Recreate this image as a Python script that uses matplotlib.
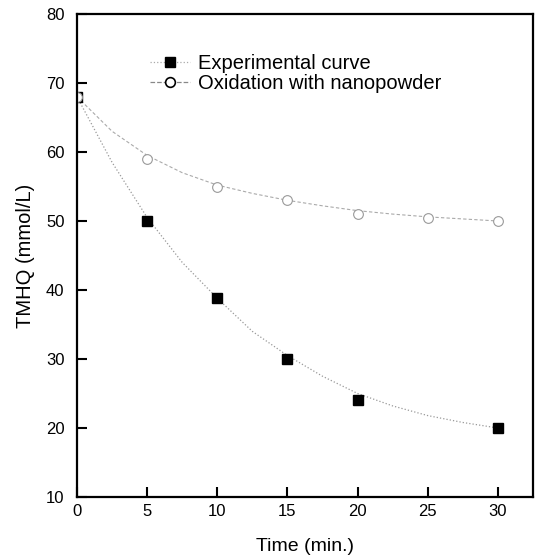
import numpy as np
import matplotlib.pyplot as plt

# measured points
time = [0, 5, 10, 15, 20, 30]
exp_tmhq = [68, 50, 38.8, 30, 24, 20]
nano_time = [0, 5, 10, 15, 20, 25, 30]
nano_tmhq = [68, 59, 55, 53, 51, 50.5, 50]

# fitted curves
fit_time = [0, 2.5, 5, 7.5, 10, 12.5, 15, 17.5, 20, 22.5, 25, 27.5, 30]
exp_fit = [68, 58.5, 50.5, 44, 38.8, 34, 30.5, 27.5, 25, 23.2, 21.8, 20.8, 20]
nano_fit = [68, 63, 59.5, 57, 55.2, 54, 53, 52.2, 51.5, 51, 50.6, 50.3, 50]

plt.rcParams["font.family"] = ["Liberation Sans", "DejaVu Sans"]

fig = plt.figure(figsize=(5.38, 5.57), dpi=100)
ax = fig.add_axes([77 / 538, 60 / 557, 456 / 538, 483 / 557])

ax.plot(fit_time, exp_fit, color="#999999", linestyle=":", linewidth=0.9)
ax.plot(fit_time, nano_fit, color="#aaaaaa", linestyle="--", dashes=(3, 2), linewidth=0.8)
ax.plot(time, exp_tmhq, linestyle="none", marker="s", markersize=7,
        color="black")
ax.plot(nano_time, nano_tmhq, linestyle="none", marker="o", markersize=7,
        markerfacecolor="white", markeredgecolor="#999999", markeredgewidth=0.8)

# legend handles with their line styles
h1, = ax.plot([], [], color="#aaaaaa", linestyle=":", linewidth=0.9,
              marker="s", markersize=7, markerfacecolor="black", markeredgecolor="black")
h2, = ax.plot([], [], color="#888888", linestyle="--", linewidth=0.9,
              marker="o", markersize=7, markerfacecolor="white", markeredgecolor="black",
              markeredgewidth=1.2)
ax.legend([h1, h2], ["Experimental curve", "Oxidation with nanopowder"],
          loc="upper left", bbox_to_anchor=(0.12, 0.955), frameon=False,
          fontsize=14.5, handlelength=2.0, handletextpad=0.4, labelspacing=0.05)

ax.set_xlim(0, 32.5)
ax.set_ylim(10, 80)
ax.set_xticks([0, 5, 10, 15, 20, 25, 30])
ax.set_yticks([10, 20, 30, 40, 50, 60, 70, 80])
ax.tick_params(direction="in", length=7, width=1.5, labelsize=12)
ax.tick_params(axis="y", pad=9)
ax.tick_params(axis="x", pad=5)
for s in ax.spines.values():
    s.set_linewidth(1.6)

ax.set_xlabel("Time (min.)", fontsize=14, labelpad=14)
ax.set_ylabel("TMHQ (mmol/L)", fontsize=14.5, labelpad=8)

fig.savefig("out.png", dpi=100)
